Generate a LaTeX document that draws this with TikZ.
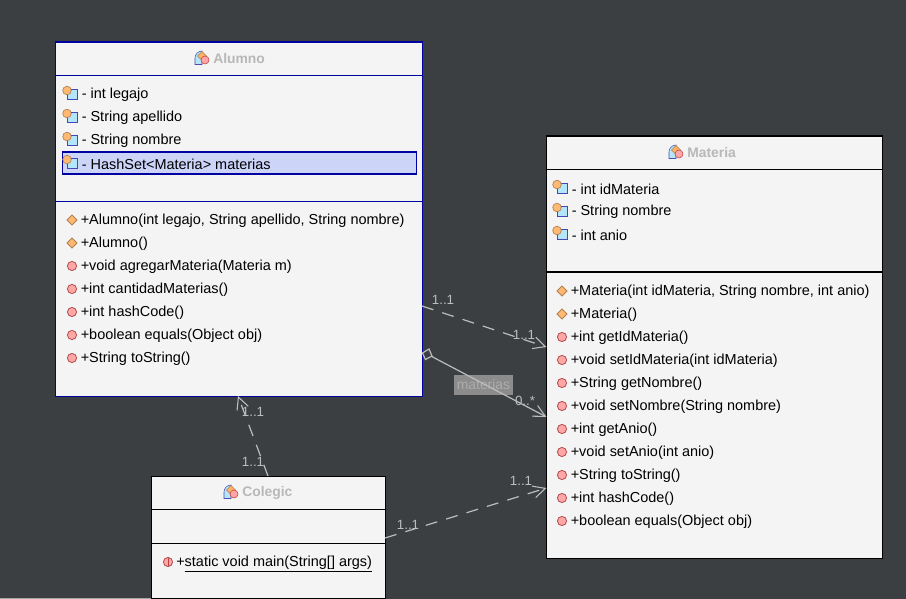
\documentclass[tikz,border=0pt]{standalone}
\usepackage{fontspec}
\setmainfont{Liberation Sans}
\usetikzlibrary{arrows.meta,shapes.geometric}
\definecolor{bgc}{HTML}{3C3F41}
\definecolor{boxc}{HTML}{F4F4F4}
\definecolor{navyc}{HTML}{0000A0}
\definecolor{linec}{HTML}{BDBDBD}
\definecolor{titlec}{HTML}{B8B8B8}
\definecolor{rowc}{HTML}{CCD4F8}
\definecolor{labc}{HTML}{8C8C8C}
\definecolor{labt}{HTML}{ADADAD}
\tikzset{
  x=0.75pt,y=-0.75pt,
  classbox/.style={draw=black,line width=0.9pt,fill=boxc,inner sep=0pt,anchor=north west},
  bluebox/.style={classbox,draw=navyc},
  member/.style={anchor=west,inner sep=0pt,yshift=-1.6pt,font=\fontsize{10.85}{12}\selectfont,text=black},
  title/.style={anchor=west,inner sep=0pt,font=\fontsize{10.4}{12}\selectfont\bfseries,text=titlec},
  multi/.style={inner sep=0pt,font=\fontsize{10}{12}\selectfont,text=linec},
  conn/.style={draw=linec,line width=0.9pt},
  dashconn/.style={conn,dash pattern=on 9pt off 7pt},
  opentip/.style={-{Straight Barb[length=9pt,width=9pt,line width=0.8pt]}},
}
\newcommand{\fieldicon}[2]{%
  \draw[draw=blue!45!gray,fill=cyan!30!white,line width=.5pt] (#1-2,#2-4) rectangle (#1+8,#2+6);
  \draw[draw=brown!70!gray,fill=orange!55!white,line width=.5pt] (#1-2,#2-2.5) circle (4.3);
}
\newcommand{\methicon}[2]{\draw[draw=red!40!gray,fill=red!35!white,line width=.6pt] (#1,#2) circle (4.6);}
\newcommand{\ctoricon}[2]{\draw[draw=brown!80!gray,fill=orange!55!white,line width=.6pt] (#1-5,#2) -- (#1,#2-5) -- (#1+5,#2) -- (#1,#2+5) -- cycle;}
\newcommand{\classicon}[2]{%
  \fill[cyan!30!white,draw=blue!40!gray,line width=.4pt] (#1-7,#2+6.5) -- (#1-7,#2) arc[start angle=180,end angle=90,radius=5.25pt] -- (#1,#2+6.5) -- cycle;
  \draw[fill=orange!60!white,draw=brown!70!gray,line width=.4pt] (#1-4.5,#2-2) -- (#1,#2-6.5) -- (#1+4.5,#2-2) -- (#1,#2+2.5) -- cycle;
  \draw[fill=red!35!white,draw=red!50!gray,line width=.4pt] (#1+3,#2+2) circle (4);
}
\begin{document}
\begin{tikzpicture}
\useasboundingbox[fill=bgc] (0,0) rectangle (906,599);
\fill[gray!70] (0,598) rectangle (260,599);

% Materia
\node[classbox,minimum width=252pt,minimum height=316.5pt] (materia) at (545.5,135.5) {};
\draw[line width=.8pt] (546,169.5) -- (882,169.5) (546,272) -- (882,272);
\classicon{676}{152}
\node[title] (mt) at (687,152.5) {Materia};
\fieldicon{559}{187}\node[member] (m1) at (571.5,187) {- int idMateria};
\fieldicon{559}{210}\node[member] (m2) at (571.5,210) {- String nombre};
\fieldicon{559}{233}\node[member] (m3) at (571.5,233) {- int anio};
\ctoricon{562}{291}\node[member] (m4) at (570.5,290) {+Materia(int idMateria, String nombre, int anio)};
\ctoricon{562}{314}\node[member] (m5) at (570.5,313) {+Materia()};
\methicon{562}{337}\node[member] (m6) at (570.5,336) {+int getIdMateria()};
\methicon{562}{360}\node[member] (m7) at (570.5,359) {+void setIdMateria(int idMateria)};
\methicon{562}{383}\node[member] (m8) at (570.5,382) {+String getNombre()};
\methicon{562}{406}\node[member] (m9) at (570.5,405) {+void setNombre(String nombre)};
\methicon{562}{429}\node[member] (m10) at (570.5,428) {+int getAnio()};
\methicon{562}{452}\node[member] (m11) at (570.5,451) {+void setAnio(int anio)};
\methicon{562}{475}\node[member] (m12) at (570.5,474) {+String toString()};
\methicon{562}{498}\node[member] (m13) at (570.5,497) {+int hashCode()};
\methicon{562}{521}\node[member] (m14) at (570.5,520) {+boolean equals(Object obj)};

% Alumno
\node[bluebox,minimum width=275.25pt,minimum height=265.5pt] (alumno) at (55,41.5) {};
\draw[navyc,line width=.8pt] (55,75.5) -- (422,75.5) (55,201.5) -- (422,201.5);
\classicon{202}{58}
\node[title] (at) at (213,59) {Alumno};
\node[draw=navyc,fill=rowc,line width=.8pt,inner sep=0pt,minimum width=265.5pt,minimum height=16.5pt,anchor=north west] (row) at (62,151.5) {};
\fieldicon{69}{93}\node[member] (a1) at (81.5,93) {- int legajo};
\fieldicon{69}{116}\node[member] (a2) at (81.5,116) {- String apellido};
\fieldicon{69}{139}\node[member] (a3) at (81.5,139) {- String nombre};
\fieldicon{69}{162}\node[member] (a4) at (81.5,162) {- HashSet<Materia> materias};
\ctoricon{72}{220}\node[member] (a5) at (80.5,219) {+Alumno(int legajo, String apellido, String nombre)};
\ctoricon{72}{243}\node[member] (a6) at (80.5,242) {+Alumno()};
\methicon{72}{266}\node[member] (a7) at (80.5,265) {+void agregarMateria(Materia m)};
\methicon{72}{289}\node[member] (a8) at (80.5,288) {+int cantidadMaterias()};
\methicon{72}{312}\node[member] (a9) at (80.5,311) {+int hashCode()};
\methicon{72}{335}\node[member] (a10) at (80.5,334) {+boolean equals(Object obj)};
\methicon{72}{358}\node[member] (a11) at (80.5,357) {+String toString()};

% Colegio
\node[classbox,minimum width=175.5pt,minimum height=92pt] (colegio) at (150.5,475.5) {};
\draw[line width=.8pt] (151,509.5) -- (385,509.5) (151,543.5) -- (385,543.5);
\classicon{231}{492}
\node[title] (ct) at (242,493) {Colegic};
\methicon{168}{562}
\draw[red!50!gray,line width=.5pt] (168,558) -- (168,566);
\node[member] (c1) at (176,561.5) {+\underline{static void main(String[] args)}};

% connectors
\coordinate (a1s) at (422,306);
\coordinate (m1e) at (546.5,347);
\coordinate (dia) at (427,354);
\coordinate (m2e) at (546.5,417);
\coordinate (c1s) at (268,476);
\coordinate (a2e) at (238,396);
\coordinate (c2s) at (385,538);
\coordinate (m3e) at (546.5,488);

\node[fill=labc,minimum width=44pt,minimum height=15pt,inner sep=0pt,text=labt,font=\fontsize{10.4}{12}\selectfont] (lab) at (483.5,384.5) {materias};
\draw[conn,opentip] (dia) -- (m2e);
\draw[conn,fill=bgc] (422.5,353) -- (429,349) -- (432,356) -- (425.5,359.5) -- cycle;
\draw[dashconn,opentip] (a1s) -- (m1e);
\draw[dashconn,opentip] (c1s) -- (a2e);
\draw[dashconn,opentip] (c2s) -- (m3e);

\node[multi] (l1) at (443,300) {1..1};
\node[multi] (l2) at (524,335) {1..1};
\node[multi] (l3) at (525,401) {0..*};
\node[multi] (l4) at (253,412) {1..1};
\node[multi] (l5) at (253,462) {1..1};
\node[multi] (l6) at (408,525) {1..1};
\node[multi] (l7) at (521,481) {1..1};
\end{tikzpicture}
\end{document}
